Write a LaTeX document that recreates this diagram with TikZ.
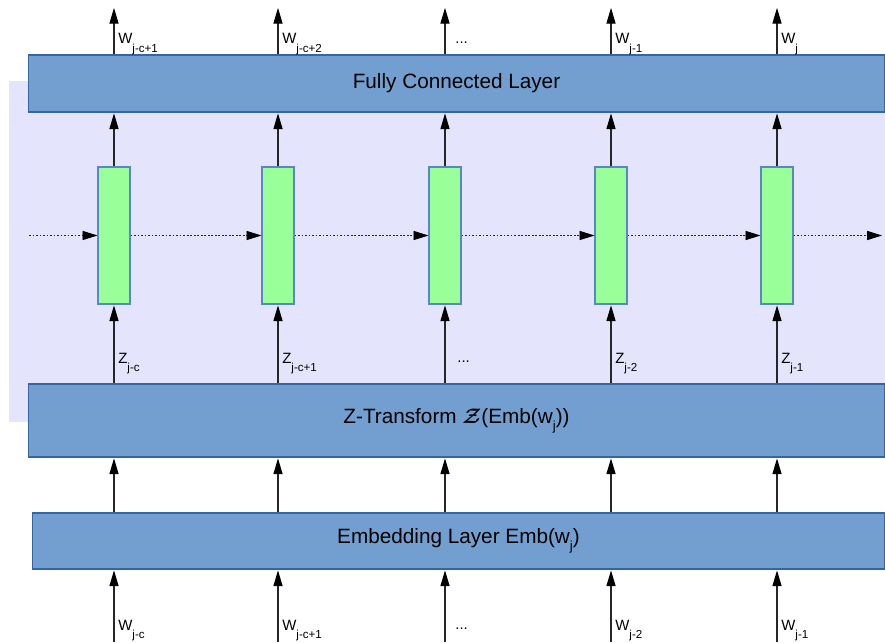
\documentclass[tikz,border=0pt]{standalone}
\usepackage{fontspec}
\setmainfont{Liberation Sans}
\usepackage{amsmath}
\usetikzlibrary{arrows.meta}

\definecolor{layerfill}{HTML}{729FCF}
\definecolor{layeredge}{HTML}{3465A4}
\definecolor{cellfill}{HTML}{99FF99}
\definecolor{celledge}{HTML}{5B87C0}
\definecolor{panel}{RGB}{228,228,252}

% lowered subscripts for the small labels and for the layer titles
\newcommand{\tsub}[1]{\raisebox{-4.8pt}{\fontsize{6.6}{7}\selectfont #1}}
\newcommand{\bsub}[1]{\raisebox{-4pt}{\fontsize{7.5}{8}\selectfont #1}}

\tikzset{
  layer/.style={draw=layeredge, fill=layerfill, line width=0.6pt, inner sep=0pt,
                font=\fontsize{11.8}{14}\selectfont},
  cell/.style={draw=celledge, fill=cellfill, line width=0.6pt,
               minimum width=0.64cm, minimum height=2.74cm, inner sep=0pt},
  flow/.style={draw=black!85, line width=0.6pt, shorten >=0.5pt,
               -{Triangle[length=9pt,width=5.2pt,color=black,fill=black]}},
  recur/.style={draw=black!85, line width=0.5pt, dash pattern=on 1pt off 1pt,
                -{Triangle[length=8.5pt,width=5.2pt,color=black,fill=black]}},
  lbl/.style={anchor=base west, inner sep=0pt, font=\fontsize{8.5}{10}\selectfont}
}

\begin{document}
\begin{tikzpicture}[x=0.02cm, y=-0.02cm]
  \useasboundingbox (0,0) rectangle (885,642);

  % recurrent region
  \fill[panel] (9,81) rectangle (885,422);

  % layers
  \node[layer, minimum width=17.14cm, minimum height=1.14cm] (fc) at (456.5,83.5)
       {Fully Connected Layer};
  \node[layer, minimum width=17.14cm, minimum height=1.46cm] (zt) at (456.5,420.5)
       {Z-Transform $\boldsymbol{\mathcal{Z}}$(Emb(w\bsub{j}))};
  \node[layer, minimum width=17.06cm, minimum height=1.12cm] (emb) at (458.5,541)
       {Embedding Layer Emb(w\bsub{j})};

  % recurrent cells with their vertical connections
  \foreach \i/\x in {1/114,2/278,3/445,4/611,5/777}{
    \node[cell] (c\i) at (\x,235.5) {};
    \coordinate (in\i) at (\x,642);
    \coordinate (out\i) at (\x,7);
    \draw[flow] (in\i) -- (in\i |- emb.south);
    \draw[flow] (in\i |- emb.north) -- (in\i |- zt.south);
    \draw[flow] (c\i.south |- zt.north) -- (c\i.south);
    \draw[flow] (c\i.north) -- (c\i.north |- fc.south);
    \draw[flow] (c\i.north |- fc.north) -- (out\i);
  }

  % hidden state passed along the sequence
  \coordinate (hstart) at (29,235.5);
  \coordinate (hend) at (882,235.5);
  \draw[recur] (hstart) -- (c1.west);
  \draw[recur] (c1.east) -- (c2.west);
  \draw[recur] (c2.east) -- (c3.west);
  \draw[recur] (c3.east) -- (c4.west);
  \draw[recur] (c4.east) -- (c5.west);
  \draw[recur] (c5.east) -- (hend);

  % outputs
  \node[lbl] (o1) at (118,44) {W\tsub{j-c+1}};
  \node[lbl] (o2) at (282,44) {W\tsub{j-c+2}};
  \node[lbl] (o3) at (455,44) {...};
  \node[lbl] (o4) at (615,44) {W\tsub{j-1}};
  \node[lbl] (o5) at (781,44) {W\tsub{j}};

  % transformed inputs
  \node[lbl] (z1) at (118,363) {Z\tsub{j-c}};
  \node[lbl] (z2) at (282,363) {Z\tsub{j-c+1}};
  \node[lbl] (z3) at (457,362) {...};
  \node[lbl] (z4) at (615,363) {Z\tsub{j-2}};
  \node[lbl] (z5) at (781,363) {Z\tsub{j-1}};

  % inputs
  \node[lbl] (w1) at (118,630) {W\tsub{j-c}};
  \node[lbl] (w2) at (282,630) {W\tsub{j-c+1}};
  \node[lbl] (w3) at (455,629) {...};
  \node[lbl] (w4) at (615,630) {W\tsub{j-2}};
  \node[lbl] (w5) at (781,630) {W\tsub{j-1}};
\end{tikzpicture}
\end{document}
